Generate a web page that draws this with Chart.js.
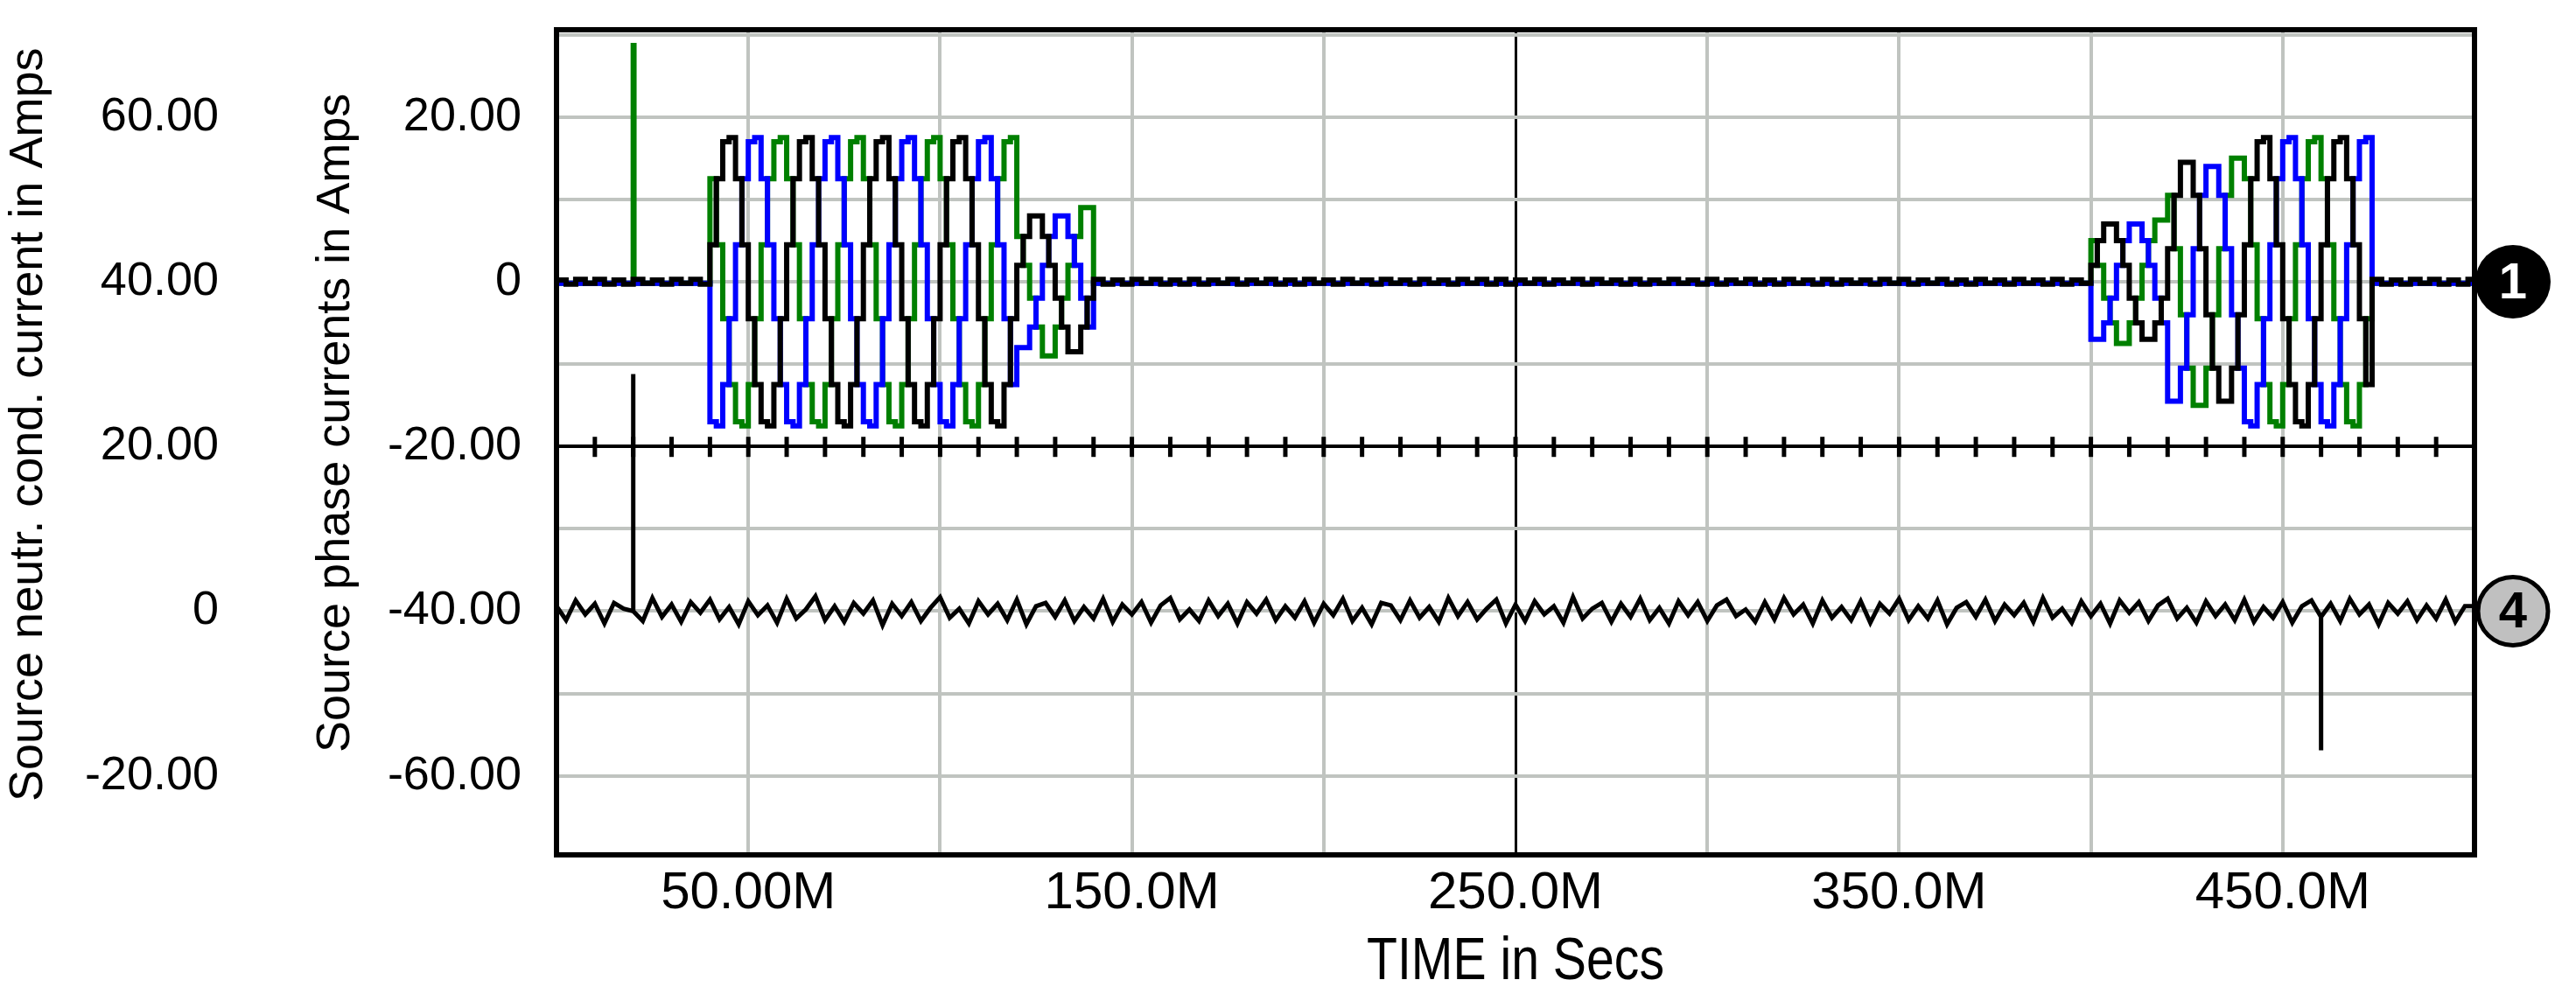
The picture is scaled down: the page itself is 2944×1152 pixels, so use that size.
<!DOCTYPE html>
<html><head><meta charset="utf-8">
<script src="https://cdn.jsdelivr.net/npm/chart.js@4.4.1/dist/chart.umd.min.js"></script>
<style>html,body{margin:0;padding:0;background:#fff;}#wrap{width:2944px;height:1152px;}</style>
</head><body><div id="wrap"><canvas id="c" width="2944" height="1152"></canvas></div>
<script>
// ---- tick labels / axes ----
const timeTickLabels = {50:'50.00M',150:'150.0M',250:'250.0M',350:'350.0M',450:'450.0M'};
const timeGridValues = [0,50,100,150,200,250,300,350,400,450,500];
const phaseTickLabels = {20:'20.00',0:'0','-20':'-20.00','-40':'-40.00','-60':'-60.00'};
const phaseGridValues = [30,20,10,0,-10,-20,-30,-40,-50,-60];
const neutralTickLabels = {60:'60.00',40:'40.00',20:'20.00',0:'0','-20':'-20.00'};
const neutralTickValues = [60,40,20,0,-20];
const phaseTitle = 'Source phase currents in Amps';
const neutralTitle = 'Source neutr. cond. current in Amps';
const timeTitle = 'TIME in Secs';

// ---- sampling (time in ms) ----
const BURST1_START = 40, BURST2_START = 400, BURST_STEP = 20/12;
const ZERO_A_START = 0, ZERO_B_START = 140, ZERO_C_START = 473.3, ZERO_STEP = 2.5;
const NEUTRAL_STEP = 2.5;

// ---- phase currents, burst 1 (40..140 ms) ----
const blackB1 = [4.5,12.5,17,17.5,12.5,4.5,-4.5,-12.5,-17,-17.5,-12.5,-4.5,
  4.5,12.5,17,17.5,12.5,4.5,-4.5,-12.5,-17,-17.5,-12.5,-4.5,
  4.5,12.5,17,17.5,12.5,4.5,-4.5,-12.5,-17,-17.5,-12.5,-4.5,
  4.5,12.5,17,17.5,12.5,4.5,-4.5,-12.5,-17,-17.5,-12.5,-4.5,
  2,5.5,8,8,5.5,2,-2,-5.5,-8.5,-8.5,-5.5,-2];
const blueB1 = [-17,-17.5,-12.5,-4.5,4.5,12.5,17,17.5,12.5,4.5,-4.5,-12.5,
  -17,-17.5,-12.5,-4.5,4.5,12.5,17,17.5,12.5,4.5,-4.5,-12.5,
  -17,-17.5,-12.5,-4.5,4.5,12.5,17,17.5,12.5,4.5,-4.5,-12.5,
  -17,-17.5,-12.5,-4.5,4.5,12.5,17,17.5,12.5,4.5,-4.5,-12.5,
  -8,-8,-5.5,-2,2,5.5,8,8,5.5,2,-2,-5.5];
const greenB1 = [12.5,4.5,-4.5,-12.5,-17,-17.5,-12.5,-4.5,4.5,12.5,17,17.5,
  12.5,4.5,-4.5,-12.5,-17,-17.5,-12.5,-4.5,4.5,12.5,17,17.5,
  12.5,4.5,-4.5,-12.5,-17,-17.5,-12.5,-4.5,4.5,12.5,17,17.5,
  12.5,4.5,-4.5,-12.5,-17,-17.5,-12.5,-4.5,4.5,12.5,17,17.5,
  5.5,2,-2,-5.5,-9,-9,-5.5,-2,2,5.5,9,9];
// ---- phase currents, burst 2 (400..473 ms) ----
const blackB2 = [2,5,7,7,5,2,-2,-5,-7,-7,-5,-2,
  4,10.5,14.5,14.5,10.5,4,-4,-10.5,-14.5,-14.5,-10.5,-4,
  4.5,12.5,17,17.5,12.5,4.5,-4.5,-12.5,-17,-17.5,-12.5,-4.5,
  4.5,12.5,17,17.5,12.5,4.5,-4.5,-12.5];
const blueB2 = [-7,-7,-5,-2,2,5,7,7,5,2,-2,-5,
  -14.5,-14.5,-10.5,-4,4,10.5,14,14,10.5,4,-4,-10.5,
  -17,-17.5,-12.5,-4.5,4.5,12.5,17,17.5,12.5,4.5,-4.5,-12.5,
  -17,-17.5,-12.5,-4.5,4.5,12.5,17,17.5];
const greenB2 = [5,2,-2,-5,-7.5,-7.5,-5,-2,2,5,7.5,7.5,
  10.5,4,-4,-10.5,-15,-15,-10.5,-4,4,10.5,15,15,
  12.5,4.5,-4.5,-12.5,-17,-17.5,-12.5,-4.5,4.5,12.5,17,17.5,
  12.5,4.5,-4.5,-12.5,-17,-17.5,-12.5,-4.5];
// ---- phase currents between bursts (small ripple) ----
const blackZeroA = [0.2,-0.3,0.3,-0.2,0.3,-0.3,0.2,-0.3,0.3,-0.2,0.2,-0.3,0.3,-0.2,0.3,-0.3];
const blackZeroB = [0.3,-0.3,0.2,-0.3,0.3,-0.2,0.3,-0.3,0.2,-0.3,0.3,-0.3,0.2,-0.2,0.3,-0.3,0.2,-0.2,0.3,-0.3,
  0.2,-0.3,0.3,-0.2,0.2,-0.3,0.3,-0.2,0.2,-0.3,0.3,-0.2,0.2,-0.3,0.3,-0.2,0.2,-0.3,0.3,-0.2,
  0.3,-0.3,0.3,-0.3,0.2,-0.2,0.3,-0.3,0.2,-0.2,0.3,-0.3,0.3,-0.2,0.2,-0.3,0.3,-0.3,0.2,-0.2,
  0.3,-0.2,0.2,-0.3,0.3,-0.3,0.2,-0.2,0.3,-0.3,0.2,-0.3,0.3,-0.2,0.2,-0.3,0.3,-0.3,0.2,-0.2,
  0.2,-0.3,0.3,-0.2,0.3,-0.3,0.2,-0.2,0.3,-0.3,0.2,-0.3,0.3,-0.2,0.2,-0.3,0.3,-0.2,0.2,-0.3,
  0.3,-0.3,0.2,-0.2];
const blackZeroC = [0.3,-0.3,0.2,-0.3,0.3,-0.2,0.3,-0.3,0.2,-0.3,0.3];
const colorZero = [-0.2];
const greenSpike = [20, 28.7];

// ---- neutral current (2.5 ms samples) ----
const neutralNoise = [
0.6,-1.1,1.3,-0.4,0.9,-1.5,1.0,0.3,0.0,-1.2,1.6,-0.7,0.8,-1.3,1.1,-0.2,1.4,-1.0,0.5,-1.6,
1.2,-0.5,0.7,-1.4,1.5,-0.9,0.2,1.8,-1.1,0.6,-1.3,1.0,-0.3,1.3,-1.7,0.9,-0.6,1.1,-1.2,0.4,
1.7,-0.8,0.3,-1.5,1.2,-0.4,0.9,-1.1,1.4,-1.6,0.6,1.0,-0.7,1.3,-1.2,0.5,-0.9,1.5,-1.3,0.8,
-0.4,1.1,-1.4,0.7,1.6,-1.0,0.2,-1.2,1.3,-0.6,0.9,-1.5,1.1,-0.3,1.4,-1.1,0.6,-0.8,1.2,-1.4,
0.9,-0.5,1.5,-1.2,0.4,-1.6,1.0,0.7,-1.1,1.3,-0.8,0.5,-1.3,1.6,-0.6,1.1,-1.0,0.3,1.4,-1.5,
0.8,-1.2,1.2,-0.4,0.6,-1.4,1.7,-0.9,0.3,1.0,-1.3,0.9,-0.7,1.5,-1.1,0.4,-1.5,1.2,-0.5,1.1,
-1.2,0.7,1.4,-0.6,0.2,-1.3,1.1,-1.0,1.6,-0.4,0.8,-1.5,1.3,-0.8,0.5,-1.1,1.2,-1.4,0.9,-0.3,
1.5,-1.1,0.6,-0.9,1.3,-1.6,0.4,1.1,-0.7,1.4,-1.2,0.8,-0.5,1.0,-1.3,1.6,-0.8,0.3,-1.4,1.2,
-0.6,0.9,-1.5,1.3,-0.2,1.1,-1.2,0.7,1.5,-0.9,0.4,-1.4,1.2,-0.6,0.8,-1.1,1.4,-1.3,0.5,-0.8,
1.1,-1.4,0.6,1.3,-0.7,0.9,-1.2,1.5,-0.4,0.8,-1.6,1.0,-0.3,1.2,-1.1,0.7,-0.9,1.4,-1.3,0.6];
const neutralSpikes = [[20, 28.8], [460, -16.9]];

// ---- build point lists ----
function phaseSeries(zA, b1, zB, b2, zC, spikes) {
  const pts = [];
  zA.forEach((v,i)=>pts.push({x:ZERO_A_START+i*ZERO_STEP,y:v}));
  b1.forEach((v,i)=>pts.push({x:BURST1_START+i*BURST_STEP,y:v}));
  zB.forEach((v,i)=>pts.push({x:ZERO_B_START+i*ZERO_STEP,y:v}));
  b2.forEach((v,i)=>pts.push({x:BURST2_START+i*BURST_STEP,y:v}));
  zC.forEach((v,i)=>pts.push({x:ZERO_C_START+i*ZERO_STEP,y:v}));
  pts.push({x:500,y:zC[zC.length-1]});
  (spikes||[]).forEach(s=>{pts.push({x:s[0],y:s[1]});pts.push({x:s[0]+0.2,y:zA[0]});});
  pts.sort((a,b)=>a.x-b.x);
  return pts;
}
const blackPts = phaseSeries(blackZeroA, blackB1, blackZeroB, blackB2, blackZeroC);
const bluePts = phaseSeries(colorZero, blueB1, colorZero, blueB2, colorZero);
const greenPts = phaseSeries(colorZero, greenB1, colorZero, greenB2, colorZero, [greenSpike]);
const neutralPts = neutralNoise.map((v,i)=>({x:i*NEUTRAL_STEP,y:v}));
neutralSpikes.forEach(s=>{
  const base = neutralNoise[Math.round(s[0]/NEUTRAL_STEP)];
  neutralPts.push({x:s[0]-0.02,y:base});
  neutralPts.push({x:s[0],y:s[1]});
  neutralPts.push({x:s[0]+0.02,y:base});
});
neutralPts.push({x:500,y:neutralNoise[neutralNoise.length-1]});
neutralPts.sort((a,b)=>a.x-b.x);

const GRID = '#c0c4c0';
const tickFont = {family:'"Liberation Sans", Arial, sans-serif', size:54};
const xFont = {family:'"Liberation Sans Narrow", "Liberation Sans", Arial, sans-serif', size:60};

const overlay = {
  id:'overlay',
  afterDraw(chart){
    const {ctx, chartArea:a, scales} = chart;
    const x = scales.x, y = scales.y;
    ctx.save();
    const ys = y.getPixelForValue(-20);
    ctx.strokeStyle='#000'; ctx.lineWidth=5;
    for (let t=10; t<500; t+=10){
      const px = x.getPixelForValue(t);
      ctx.beginPath(); ctx.moveTo(px, ys-11); ctx.lineTo(px, ys+12); ctx.stroke();
    }
    ctx.lineWidth=6; ctx.strokeRect(a.left, a.top, a.right-a.left, a.bottom-a.top);
    ctx.fillStyle='#000';
    ctx.font='54px "Liberation Sans", Arial, sans-serif';
    ctx.textBaseline='middle'; ctx.textAlign='left';
    ctx.save(); ctx.translate(384, 860); ctx.rotate(-Math.PI/2); ctx.fillText(phaseTitle,0,0,790); ctx.restore();
    ctx.save(); ctx.translate(33, 916); ctx.rotate(-Math.PI/2); ctx.fillText(neutralTitle,0,0); ctx.restore();
    ctx.font='68px "Liberation Sans Narrow", "Liberation Sans", Arial, sans-serif';
    ctx.textAlign='center';
    ctx.fillText(timeTitle, (a.left+a.right)/2, 1100, 340);
    const mx = a.right + 44;
    const m1 = y.getPixelForValue(0), m4 = y.getPixelForValue(-40);
    ctx.beginPath(); ctx.ellipse(mx, m1, 43, 42, 0, 0, Math.PI*2); ctx.fillStyle='#000'; ctx.fill();
    ctx.fillStyle='#fff'; ctx.font='bold 58px "Liberation Sans", Arial, sans-serif';
    ctx.fillText('1', mx, m1+3);
    ctx.beginPath(); ctx.ellipse(mx, m4, 40, 39, 0, 0, Math.PI*2); ctx.fillStyle='#c0c0c0'; ctx.fill();
    ctx.lineWidth=5; ctx.strokeStyle='#000'; ctx.stroke();
    ctx.fillStyle='#000'; ctx.fillText('4', mx, m4+3);
    ctx.restore();
  }
};

function setTicks(values){ return function(s){ s.ticks = values.map(v=>({value:v})); }; }
function fitV(w){ return function(s){ s.width=w; s.paddingTop=0; s.paddingBottom=0; }; }

new Chart(document.getElementById('c'), {
  type:'line',
  data:{datasets:[
    {data:blackPts, yAxisID:'y', borderColor:'#000', borderWidth:6, stepped:'before', pointRadius:0},
    {data:neutralPts, yAxisID:'y2', borderColor:'#000', borderWidth:5, stepped:false, pointRadius:0},
    {data:bluePts, yAxisID:'y', borderColor:'#0000ff', borderWidth:6, stepped:'before', pointRadius:0},
    {data:greenPts, yAxisID:'y', borderColor:'#008000', borderWidth:6, stepped:'before', pointRadius:0}
  ]},
  options:{
    responsive:false, animation:false, devicePixelRatio:1,
    layout:{padding:{top:34,right:116,left:0,bottom:0}},
    plugins:{legend:{display:false}, tooltip:{enabled:false}},
    elements:{line:{tension:0, borderJoinStyle:'miter'}},
    scales:{
      x:{type:'linear', min:0, max:500,
        afterBuildTicks:setTicks(timeGridValues),
        afterFit(s){s.height=175; s.paddingLeft=0; s.paddingRight=0;},
        border:{display:false},
        grid:{drawTicks:false, color:c=>c.tick&&c.tick.value===250?'#000':GRID, lineWidth:c=>c.tick&&c.tick.value===250?3:4},
        ticks:{autoSkip:false, maxRotation:0, padding:8, color:'#000', font:xFont,
          callback:v=>timeTickLabels[v]||''}},
      y:{type:'linear', position:'left', weight:0, min:-69.6, max:30.6,
        afterBuildTicks:setTicks(phaseGridValues),
        afterFit:fitV(306),
        border:{display:false},
        grid:{drawTicks:false, color:c=>c.tick&&c.tick.value===-20?'#000':GRID, lineWidth:4},
        ticks:{autoSkip:false, padding:40, color:'#000', font:tickFont,
          callback:v=>phaseTickLabels[v]!==undefined?phaseTickLabels[v]:''}},
      y2:{type:'linear', position:'left', weight:1, min:-29.6, max:70.6,
        afterBuildTicks:setTicks(neutralTickValues),
        afterFit:fitV(330),
        border:{display:false},
        grid:{display:false, drawTicks:false},
        ticks:{autoSkip:false, padding:80, color:'#000', font:tickFont,
          callback:v=>neutralTickLabels[v]!==undefined?neutralTickLabels[v]:''}}
    }
  },
  plugins:[overlay]
});
</script></body></html>
